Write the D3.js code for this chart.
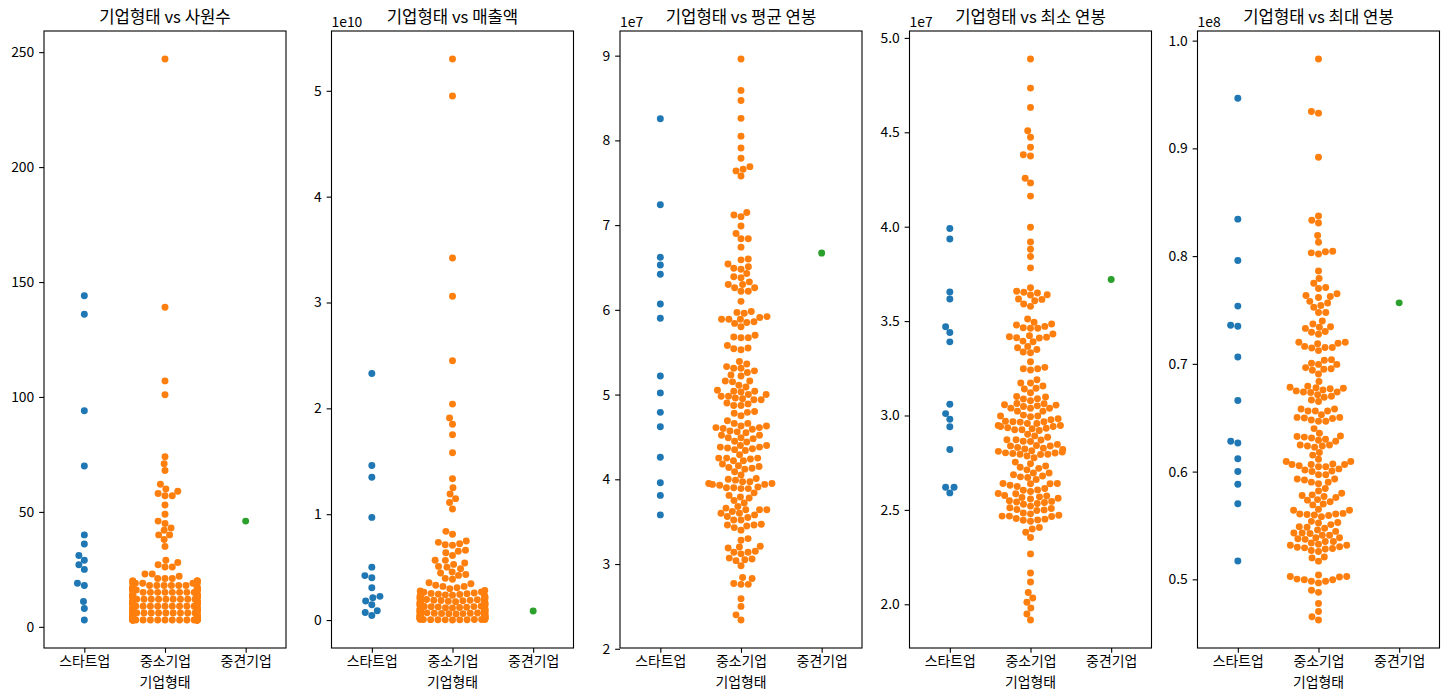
<!DOCTYPE html>
<html><head><meta charset="utf-8">
<script src="https://cdn.jsdelivr.net/npm/d3@7"></script>
<style>
body{margin:0;background:#fff}
svg{display:block}
text{font-family:"Noto Sans CJK KR","Noto Sans",sans-serif;fill:#000}
</style>
</head><body>
<svg id="chart" width="1449" height="698"></svg>
<script>
// ---------- categories / labels ----------
const categories = ["스타트업", "중소기업", "중견기업"];
const xAxisLabel = "기업형태";
const titles = ["기업형태 vs 사원수", "기업형태 vs 매출액", "기업형태 vs 평균 연봉", "기업형태 vs 최소 연봉", "기업형태 vs 최대 연봉"];
const offsetLabels = ["", "1e10", "1e7", "1e7", "1e8"];

// ---------- 사원수 ----------
const employeesStartup = [144, 136, 94, 70, 40, 36, 31, 29, 27, 25, 19, 18, 11, 8, 3];
const employeesMid = [46];
const employeesSME = [247, 139, 107, 101, 74, 71, 68, 62, 60, 59, 58, 57, 57, 53, 49, 46, 45, 43, 42, 40, 40, 38, 35, 29, 28, 27, 26, 26, 23, 23, 22,
  3,3,3,3,3,3,3,3,3,3,3,3,3,3,3,3,3,3,3,3,
  4,4,4,4,4,4,4,4,
  5,5,5,5,5,5,5,5,5,5,
  6,6,6,6,6,6,6,6,6,6,
  7,7,7,7,7,7,7,7,7,7,
  8,8,8,8,8,8,8,8,8,8,
  9,9,9,9,9,9,9,9,9,
  10,10,10,10,10,10,10,10,10,10,
  11,11,11,11,11,11,11,11,11,
  12,12,12,12,12,12,12,12,12,
  13,13,13,13,13,13,13,13,13,
  14,14,14,14,14,14,14,14,
  15,15,15,15,15,15,15,15,
  16,16,16,16,16,16,16,16,
  17,17,17,17,17,17,17,
  18,18,18,18,18,18,
  19,19,19,19,19,
  20,20,20,20,20,
  21,21,21];
const employeesTicks = [0, 50, 100, 150, 200, 250];
const employeesTickLabels = ["0", "50", "100", "150", "200", "250"];

// ---------- 매출액 (×1e10) ----------
const salesStartup = [2.33, 1.46, 1.35, 0.97, 0.50, 0.42, 0.40, 0.305, 0.224, 0.21, 0.18, 0.145, 0.088, 0.072, 0.044];
const salesMid = [0.085];
const salesSME = [5.30, 4.95, 3.42, 3.06, 2.45, 2.04, 1.91, 1.85, 1.75, 1.58, 1.335, 1.25, 1.19, 1.147, 1.11, 1.05,
  0.838, 0.81, 0.747, 0.734, 0.72, 0.712, 0.706, 0.66, 0.65, 0.636, 0.61, 0.565, 0.564, 0.539, 0.526, 0.507, 0.50, 0.485,
  0.454, 0.444, 0.43, 0.422, 0.394, 0.385, 0.353, 0.343, 0.328, 0.318, 0.318, 0.305, 0.296, 0.28, 0.274,
  0.001,0.002,0.002,0.003,0.003,0.004,0.005,0.005,0.006,0.007,0.007,0.008,0.009,0.009,
  0.011,0.012,0.013,0.014,0.015,0.015,0.016,0.017,0.018,0.019,
  0.021,0.022,0.024,0.025,0.026,0.027,0.028,0.029,
  0.031,0.032,0.033,0.035,0.036,0.037,0.038,0.039,
  0.041,0.042,0.044,0.045,0.046,0.048,0.049,
  0.051,0.052,0.054,0.055,0.056,0.058,0.059,
  0.061,0.062,0.064,0.065,0.066,0.068,0.069,
  0.071,0.073,0.074,0.076,0.077,0.079,
  0.081,0.083,0.084,0.086,0.087,0.089,
  0.091,0.093,0.094,0.096,0.097,0.099,
  0.101,0.103,0.104,0.106,0.107,0.109,
  0.111,0.113,0.115,0.117,0.119,
  0.121,0.123,0.125,0.127,0.129,
  0.131,0.133,0.135,0.137,0.139,
  0.141,0.143,0.145,0.147,0.149,
  0.151,0.153,0.155,0.157,0.159,
  0.161,0.163,0.165,0.167,0.169,
  0.172,0.174,0.176,0.178,
  0.182,0.184,0.186,0.188,
  0.192,0.194,0.196,0.198,
  0.202,0.204,0.206,0.208,
  0.212,0.214,0.216,0.218,
  0.222,0.225,0.228,
  0.232,0.235,0.238,
  0.242,0.245,0.248,
  0.252,0.256,
  0.262,0.266];
const salesTicks = [0, 1, 2, 3, 4, 5];
const salesTickLabels = ["0", "1", "2", "3", "4", "5"];

// ---------- 평균 연봉 (×1e7) ----------
const avgSalaryStartup = [8.255, 7.24, 6.62, 6.53, 6.42, 6.07, 5.90, 5.22, 5.02, 4.79, 4.62, 4.26, 3.96, 3.81, 3.58];
const avgSalaryMid = [6.67];
const avgSalarySME = [8.96,8.59,8.47,8.26,8.05,7.91,7.79,7.69,7.66,7.64,7.58,7.15,7.12,7.10,6.99,6.90,6.84,6.84,6.74,6.60,
  6.59,6.54,6.51,6.49,6.48,6.43,6.39,6.38,6.33,6.30,6.30,6.26,6.26,6.22,6.22,6.10,5.98,5.97,5.96,5.92,
  5.91,5.89,5.89,5.89,5.86,5.85,5.84,5.80,5.70,5.68,5.67,5.67,
  5.58,5.54,5.53,5.55,5.39,5.36,5.31,5.31,5.33,5.26,5.28,5.23,5.22,5.16,5.16,5.15,5.11,5.09,5.04,5.05,
  5.04,5.03,5.00,5.00,4.95,4.98,4.98,4.96,4.94,4.94,4.90,4.87,4.89,4.87,4.78,4.75,4.79,4.80,4.69,4.66,
  4.66,4.63,4.61,4.59,4.61,4.60,4.63,4.57,4.55,4.56,4.52,4.52,4.49,4.49,4.48,4.45,4.44,4.40,4.38,4.40,
  4.37,4.38,4.35,4.36,4.34,4.29,4.25,4.24,4.25,4.25,4.22,4.22,4.16,4.15,4.18,4.12,4.09,4.13,4.14,4.05,
  4.01,4.00,3.99,3.95,3.97,3.97,3.95,3.94,3.94,3.93,3.91,3.90,3.89,3.89,3.90,3.84,3.81,3.79,3.78,3.75,
  3.72,3.68,3.64,3.66,3.64,3.64,3.62,3.60,3.60,3.58,3.56,3.52,3.55,3.52,3.46,3.43,3.40,3.45,3.46,3.47,
  3.30,3.28,3.21,3.19,3.20,3.14,3.12,3.14,3.15,3.07,3.04,3.05,3.06,2.98,2.83,2.84,2.76,2.76,2.77,2.59,
  2.50,2.40,2.34];
const avgSalaryTicks = [2, 3, 4, 5, 6, 7, 8, 9];
const avgSalaryTickLabels = ["2", "3", "4", "5", "6", "7", "8", "9"];

// ---------- 최소 연봉 (×1e7) ----------
const minSalaryStartup = [3.99, 3.935, 3.654, 3.617, 3.47, 3.44, 3.39, 3.06, 3.01, 2.98, 2.94, 2.82, 2.62, 2.59, 2.62];
const minSalaryMid = [3.72];
const minSalarySME = [4.888,4.734,4.632,4.508,4.474,4.421,4.381,4.374,4.257,4.232,4.162,3.997,3.919,3.881,3.842,3.782,
  3.677,3.658,3.649,3.653,3.638,3.640,3.617,3.608,3.615,3.591,3.578,3.511,3.494,3.479,3.485,3.465,3.462,3.462,3.472,
  3.423,3.412,3.394,3.417,3.391,3.410,3.414,3.432,3.359,3.366,3.336,3.350,3.332,3.285,3.248,3.241,3.248,3.255,
  3.172,3.172,3.189,3.156,3.140,3.144,3.120,3.098,3.087,3.078,3.089,3.101,3.064,3.048,3.038,3.051,3.062,3.055,
  3.038,3.057,3.039,3.023,3.023,2.997,2.993,3.002,2.997,2.977,2.983,2.970,2.947,2.942,2.965,2.947,2.942,2.967,
  2.958,2.958,2.967,2.932,2.930,2.924,2.921,2.924,2.935,2.901,2.892,2.885,2.871,2.862,2.871,2.870,2.864,2.841,
  2.838,2.847,2.839,2.827,2.813,2.831,2.823,2.802,2.801,2.795,2.793,2.785,2.776,2.795,2.799,2.806,2.820,2.810,
  2.753,2.744,2.726,2.712,2.720,2.732,2.695,2.695,2.686,2.672,2.675,2.661,2.679,2.640,2.638,2.631,2.640,2.624,
  2.638,2.604,2.606,2.597,2.613,2.576,2.569,2.574,2.585,2.587,2.562,2.548,2.539,2.530,2.558,2.534,2.542,2.545,
  2.566,2.520,2.511,2.502,2.484,2.479,2.497,2.500,2.507,2.472,2.467,2.454,2.445,2.440,2.447,2.451,2.465,2.467,
  2.382,2.399,2.407,2.354,2.267,2.166,2.118,2.062,2.033,2.011,1.980,1.949,1.917];
const minSalaryTicks = [2.0, 2.5, 3.0, 3.5, 4.0, 4.5, 5.0];
const minSalaryTickLabels = ["2.0", "2.5", "3.0", "3.5", "4.0", "4.5", "5.0"];

// ---------- 최대 연봉 (values ×1e7, axis shown ×1e8) ----------
const maxSalaryStartup = [9.465, 8.343, 7.959, 7.536, 7.359, 7.349, 7.064, 6.660, 6.281, 6.266, 6.119, 6.000, 5.882, 5.702, 5.170];
const maxSalaryMid = [7.566];
const maxSalarySME = [9.829,9.342,9.327,8.918,8.373,8.333,8.308,8.192,8.128,8.030,8.020,8.040,8.045,7.861,7.792,7.748,
  7.699,7.709,7.650,7.625,7.615,7.635,7.565,7.541,7.580,7.526,7.477,7.477,7.398,7.369,7.344,7.329,7.339,
  7.294,7.275,7.300,7.201,7.162,7.147,7.187,7.123,7.152,7.152,7.192,7.201,7.005,6.995,7.034,7.039,6.995,6.965,6.941,6.906,
  6.950,6.955,6.837,6.749,6.734,6.778,6.714,6.758,6.739,6.665,6.650,6.768,6.690,6.773,6.699,6.739,6.783,6.793,6.581,6.562,
  6.527,6.562,6.562,6.581,6.498,6.478,6.468,6.503,6.468,6.493,6.503,6.399,6.355,6.325,6.320,6.311,6.291,6.301,6.281,
  6.330,6.247,6.237,6.227,6.237,6.247,6.178,6.153,6.114,6.094,6.065,6.045,6.070,6.006,6.001,6.045,6.055,6.094,6.015,
  6.025,6.065,6.065,5.971,5.971,5.932,5.922,5.887,5.902,5.902,5.932,5.843,5.779,5.740,5.720,5.784,5.760,5.799,5.819,
  5.769,5.735,5.700,5.691,5.651,5.641,5.612,5.602,5.597,5.582,5.592,5.607,5.607,5.641,5.538,5.508,5.523,5.528,5.489,
  5.484,5.459,5.474,5.445,5.425,5.430,5.410,5.430,5.386,5.410,5.386,5.371,5.376,5.351,5.351,5.337,5.317,5.297,5.292,
  5.267,5.258,5.282,5.287,5.302,5.326,5.317,5.199,5.169,5.208,5.002,4.997,4.982,5.026,5.041,4.967,4.982,4.997,
  5.021,5.026,4.898,4.879,4.775,4.652,4.701,4.623];
const maxSalaryTicks = [5, 6, 7, 8, 9, 10];
const maxSalaryTickLabels = ["0.5", "0.6", "0.7", "0.8", "0.9", "1.0"];

// ---------- assemble ----------
const panelData = [
  {groups: [employeesStartup, employeesSME, employeesMid], ticks: employeesTicks, labels: employeesTickLabels},
  {groups: [salesStartup, salesSME, salesMid], ticks: salesTicks, labels: salesTickLabels},
  {groups: [avgSalaryStartup, avgSalarySME, avgSalaryMid], ticks: avgSalaryTicks, labels: avgSalaryTickLabels},
  {groups: [minSalaryStartup, minSalarySME, minSalaryMid], ticks: minSalaryTicks, labels: minSalaryTickLabels},
  {groups: [maxSalaryStartup, maxSalarySME, maxSalaryMid], ticks: maxSalaryTicks, labels: maxSalaryTickLabels}
];

// ---------- layout & style ----------
const palette = ["#1f77b4", "#ff7f0e", "#2ca02c"];
const axLefts = [44, 331.5, 620, 909.5, 1197.5];
const axW = 242, axTop = 31, axH = 617;
const R = 2.5 * 100 / 72;      // marker radius (px)
const tickLen = 4.86, tickPad = 4.86;
const tickFont = 13.9, titleFont = 16.7;

const svg = d3.select("#chart");

function beeswarm(values, cx, y, r, half) {
  const pts = values.map((v, i) => ({v, i, y: y(v), x: cx}));
  const order = pts.slice().sort((a, b) => a.v - b.v);
  const placed = [];
  for (const p of order) {
    const nb = [];
    for (let k = placed.length - 1; k >= 0; k--) {
      const q = placed[k];
      if (Math.abs(p.y - q.y) < 2 * r) nb.push(q); else break;
    }
    const cands = [cx];
    let leftFirst = true;
    for (const q of nb) {
      const dy = p.y - q.y;
      const dx = Math.sqrt(Math.max(4 * r * r - dy * dy, 0)) * 1.05;
      if (leftFirst) cands.push(q.x - dx, q.x + dx); else cands.push(q.x + dx, q.x - dx);
      leftFirst = !leftFirst;
    }
    cands.sort((a, b) => Math.abs(a - cx) - Math.abs(b - cx));
    let chosen = cands[0];
    if (nb.length) {
      for (const c of cands) {
        if (nb.every(q => (q.x - c) ** 2 + (q.y - p.y) ** 2 >= 4 * r * r - 1e-9)) { chosen = c; break; }
      }
    }
    p.x = chosen;
    placed.push(p);
  }
  pts.forEach(p => { p.x = Math.max(cx - half, Math.min(cx + half, p.x)); });
  return pts;
}

panelData.forEach((pd, pi) => {
  const left = axLefts[pi];
  const g = svg.append("g").attr("transform", `translate(${left},${axTop})`);
  const all = pd.groups.flat();
  const lo = d3.min(all), hi = d3.max(all), pad = (hi - lo) * 0.05;
  const y = d3.scaleLinear().domain([lo - pad, hi + pad]).range([axH, 0]);
  const x = d3.scaleLinear().domain([-0.5, 2.5]).range([0, axW]);
  const band = x(1) - x(0);

  pd.groups.forEach((vals, gi) => {
    const pts = beeswarm(vals, x(gi), y, R, 0.4 * band);
    g.append("g").selectAll("circle").data(pts).join("circle")
      .attr("cx", d => d.x).attr("cy", d => d.y).attr("r", R)
      .attr("fill", palette[gi]);
  });

  const yAxis = d3.axisLeft(y).tickValues(pd.ticks)
    .tickFormat((d, i) => pd.labels[i]).tickSize(tickLen).tickPadding(tickPad);
  const ya = g.append("g").call(yAxis);
  ya.select(".domain").remove();
  ya.selectAll("line").attr("stroke", "#000").attr("stroke-width", 1.1);
  ya.selectAll("text").attr("font-size", tickFont).attr("fill", "#222")
    .style("font-family", '"Noto Sans CJK KR", sans-serif');

  const xAxis = d3.axisBottom(x).tickValues([0, 1, 2])
    .tickFormat((d, i) => categories[i]).tickSize(tickLen).tickPadding(tickPad);
  const xa = g.append("g").attr("transform", `translate(0,${axH})`).call(xAxis);
  xa.select(".domain").remove();
  xa.selectAll("line").attr("stroke", "#000").attr("stroke-width", 1.1);
  xa.selectAll("text").attr("font-size", tickFont).attr("fill", "#222")
    .attr("dy", "0.62em")
    .style("font-family", '"Noto Sans CJK KR", sans-serif');

  g.append("rect").attr("x", 0).attr("y", 0).attr("width", axW).attr("height", axH)
    .attr("fill", "none").attr("stroke", "#000").attr("stroke-width", 1.1);

  g.append("text").attr("x", axW / 2).attr("y", -8.5).attr("text-anchor", "middle")
    .attr("font-size", titleFont).attr("fill", "#111").text(titles[pi]);

  g.append("text").attr("x", axW / 2).attr("y", axH + 38.5).attr("text-anchor", "middle")
    .attr("font-size", tickFont).attr("fill", "#222").text(xAxisLabel);

  if (offsetLabels[pi]) {
    g.append("text").attr("x", 0).attr("y", -4.5).attr("text-anchor", "start")
      .attr("font-size", tickFont).attr("fill", "#222").text(offsetLabels[pi]);
  }
});
</script>
</body></html>
